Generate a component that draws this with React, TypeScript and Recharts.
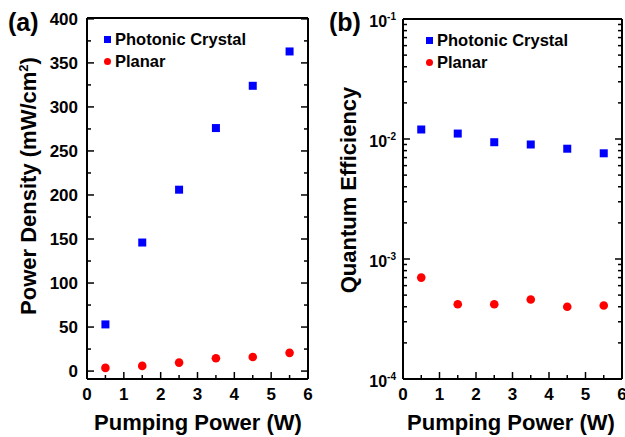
import React from 'react';
import { ScatterChart, Scatter, XAxis, YAxis, Legend } from 'recharts';

const FONT = '"Liberation Sans", Arial, Helvetica, sans-serif';

// data
const pumpPower = [0.5, 1.5, 2.5, 3.5, 4.5, 5.5];
const densityPhotonic = [53, 146, 206, 276, 324, 363];
const densityPlanar = [3.6, 5.9, 9.6, 14.5, 16, 20.7];
const qePhotonic = [0.012, 0.0111, 0.0094, 0.009, 0.0083, 0.0076];
const qePlanar = [0.0007, 0.00042, 0.00042, 0.00046, 0.0004, 0.00041];

// ticks
const xTicks = [0, 0.5, 1, 1.5, 2, 2.5, 3, 3.5, 4, 4.5, 5, 5.5, 6];
const densityTicks = [0, 25, 50, 75, 100, 125, 150, 175, 200, 225, 250, 275, 300, 325, 350, 375, 400];
const qeDecades = [0.0001, 0.001, 0.01, 0.1];
const qeMinorSteps = [2, 3, 4, 5, 6, 7, 8, 9];
const qeTicks = qeDecades.flatMap((d, i) =>
  i < qeDecades.length - 1 ? [d, ...qeMinorSteps.map(m => m * d)] : [d]
);

const toPoints = (ys: number[]) => pumpPower.map((x, i) => ({ x, y: ys[i] }));

type Side = 'bottom' | 'top' | 'left' | 'right';

const isLogMajor = (v: number) => Math.abs(Math.log10(v) - Math.round(Math.log10(v))) < 1e-6;

const makeTick = (
  side: Side,
  isMajor: (v: number) => boolean,
  label?: (v: number, x: number, y: number) => React.ReactNode
) => (props: any) => {
  const { x, y, payload } = props;
  const v = payload.value;
  const major = isMajor(v);
  const len = major ? 7 : 4;
  let x2 = x;
  let y2 = y;
  if (side === 'bottom') y2 = y - len;
  if (side === 'top') y2 = y + len;
  if (side === 'left') x2 = x + len;
  if (side === 'right') x2 = x - len;
  return (
    <g>
      <line x1={x} y1={y} x2={x2} y2={y2} stroke="#000" strokeWidth={1.5} />
      {major && label ? label(v, x, y) : null}
    </g>
  );
};

const tickText = { fontFamily: FONT, fontWeight: 'bold' as const, fill: '#000' };

const bottomLabel = (v: number, x: number, y: number) => (
  <text x={x} y={y + 21} textAnchor="middle" fontSize={17} {...tickText}>{v}</text>
);
const linearLeftLabel = (v: number, x: number, y: number) => (
  <text x={x - 9} y={y + 6} textAnchor="end" fontSize={17} {...tickText}>{v}</text>
);
const logLeftLabel = (v: number, x: number, y: number) => (
  <text x={x - 7} y={y + 8} textAnchor="end" fontSize={16} {...tickText}>
    <tspan>10</tspan>
    <tspan dy={-7} fontSize={10}>{Math.round(Math.log10(v))}</tspan>
  </text>
);

const Square = (p: any) => <rect x={p.cx - 4} y={p.cy - 4} width={8} height={8} fill="#0000ff" />;
const Dot = (p: any) => <circle cx={p.cx} cy={p.cy} r={4.3} fill="#ff0000" />;

const LegendBox = () => (
  <div style={{ fontFamily: FONT, fontWeight: 'bold', fontSize: 16.5, color: '#000', lineHeight: '22px' }}>
    <div style={{ display: 'flex', alignItems: 'center' }}>
      <span style={{ width: 7, height: 7, background: '#0000ff', marginRight: 4, display: 'inline-block' }} />
      Photonic Crystal
    </div>
    <div style={{ display: 'flex', alignItems: 'center' }}>
      <span style={{ width: 7, height: 7, borderRadius: '50%', background: '#ff0000', marginRight: 4, display: 'inline-block' }} />
      Planar
    </div>
  </div>
);

const axisLine = { stroke: '#000', strokeWidth: 2 };

const isInt = (v: number) => Number.isInteger(v);
const isFifty = (v: number) => v % 50 === 0;

const App = () => {
  return (
    <div style={{ position: 'absolute', left: 0, top: 0, width: 625, height: 437, background: '#fff', overflow: 'hidden' }}>
      <div style={{ position: 'absolute', left: 0, top: 0 }}>
        <ScatterChart width={320} height={437} margin={{ top: 17, right: 11, bottom: 57, left: 86 }}>
          <XAxis xAxisId="b" type="number" dataKey="x" domain={[0, 6]} ticks={xTicks} interval={0}
            height={1} tickSize={0} tickMargin={0} axisLine={axisLine} tickLine={false}
            tick={makeTick('bottom', isInt, bottomLabel)} />
          <XAxis xAxisId="t" orientation="top" type="number" domain={[0, 6]} ticks={xTicks} interval={0}
            height={1} tickSize={0} tickMargin={0} axisLine={axisLine} tickLine={false}
            tick={makeTick('top', isInt)} />
          <YAxis yAxisId="l" type="number" dataKey="y" domain={[-9, 401]} ticks={densityTicks} interval={0}
            width={1} tickSize={0} tickMargin={0} axisLine={axisLine} tickLine={false} allowDataOverflow
            tick={makeTick('left', isFifty, linearLeftLabel)} />
          <YAxis yAxisId="r" orientation="right" type="number" domain={[-9, 401]} ticks={densityTicks} interval={0}
            width={1} tickSize={0} tickMargin={0} axisLine={axisLine} tickLine={false} allowDataOverflow
            tick={makeTick('right', isFifty)} />
          <Legend layout="vertical" align="center" verticalAlign="middle" content={LegendBox}
            wrapperStyle={{ left: 104, top: 28, width: 200 }} />
          <Scatter name="Photonic Crystal" data={toPoints(densityPhotonic)} xAxisId="b" yAxisId="l"
            shape={Square} isAnimationActive={false} />
          <Scatter name="Planar" data={toPoints(densityPlanar)} xAxisId="b" yAxisId="l"
            shape={Dot} isAnimationActive={false} />
        </ScatterChart>
      </div>
      <div style={{ position: 'absolute', left: 320, top: 0 }}>
        <ScatterChart width={305} height={437} margin={{ top: 18, right: 2, bottom: 57, left: 82 }}>
          <XAxis xAxisId="b" type="number" dataKey="x" domain={[0, 6]} ticks={xTicks} interval={0}
            height={1} tickSize={0} tickMargin={0} axisLine={axisLine} tickLine={false}
            tick={makeTick('bottom', isInt, bottomLabel)} />
          <XAxis xAxisId="t" orientation="top" type="number" domain={[0, 6]} ticks={xTicks} interval={0}
            height={1} tickSize={0} tickMargin={0} axisLine={axisLine} tickLine={false}
            tick={makeTick('top', isInt)} />
          <YAxis yAxisId="l" type="number" dataKey="y" scale="log" domain={[0.0001, 0.1]} ticks={qeTicks} interval={0}
            width={1} tickSize={0} tickMargin={0} axisLine={axisLine} tickLine={false} allowDataOverflow
            tick={makeTick('left', isLogMajor, logLeftLabel)} />
          <YAxis yAxisId="r" orientation="right" type="number" scale="log" domain={[0.0001, 0.1]} ticks={qeTicks} interval={0}
            width={1} tickSize={0} tickMargin={0} axisLine={axisLine} tickLine={false} allowDataOverflow
            tick={makeTick('right', isLogMajor)} />
          <Legend layout="vertical" align="center" verticalAlign="middle" content={LegendBox}
            wrapperStyle={{ left: 106, top: 29, width: 190 }} />
          <Scatter name="Photonic Crystal" data={toPoints(qePhotonic)} xAxisId="b" yAxisId="l"
            shape={Square} isAnimationActive={false} />
          <Scatter name="Planar" data={toPoints(qePlanar)} xAxisId="b" yAxisId="l"
            shape={Dot} isAnimationActive={false} />
        </ScatterChart>
      </div>
      <svg width={625} height={437} style={{ position: 'absolute', left: 0, top: 0, pointerEvents: 'none' }}>
        <g fontFamily={FONT} fontWeight="bold" fill="#000">
          <text x={8} y={31} fontSize={25}>(a)</text>
          <text x={329} y={31} fontSize={25}>(b)</text>
          <text x={198} y={430} fontSize={22} textAnchor="middle">Pumping Power (W)</text>
          <text x={511} y={430} fontSize={22} textAnchor="middle">Pumping Power (W)</text>
          <text x={36} y={186} fontSize={22} textAnchor="middle" transform="rotate(-90 36 186)">
            Power Density (mW/cm<tspan dy={-8} fontSize={13}>2</tspan><tspan dy={8}>)</tspan>
          </text>
          <text x={356} y={190} fontSize={22} textAnchor="middle" transform="rotate(-90 356 190)">
            Quantum Efficiency
          </text>
        </g>
      </svg>
    </div>
  );
};

export default App;
